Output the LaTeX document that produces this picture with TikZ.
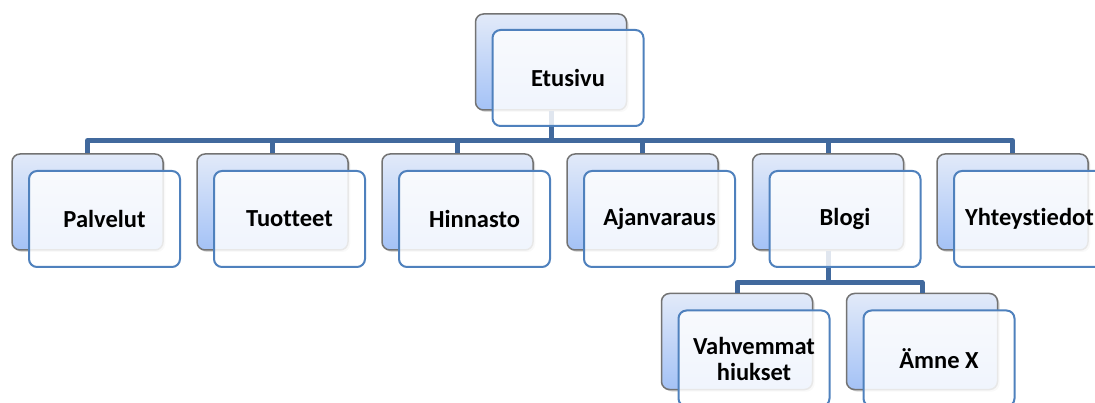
\documentclass[tikz,border=0pt]{standalone}
\usepackage{fontspec}
\setmainfont{Carlito}[Ligatures=NoCommon]
\usetikzlibrary{shadows}
\definecolor{linkblue}{HTML}{41699D}
\definecolor{edgeblue}{HTML}{4F81BD}
\definecolor{topblue}{HTML}{E2EAF9}
\definecolor{botblue}{HTML}{A4C2F6}
\tikzset{
  backbox/.style={draw=gray!90!black,line width=1.5pt,rounded corners=8pt,minimum width=151pt,minimum height=96pt,
    top color=topblue,bottom color=botblue,drop shadow={shadow xshift=2pt,shadow yshift=-2pt,opacity=0.3}},
  frontbox/.style={draw=edgeblue,line width=2pt,rounded corners=8pt,minimum width=151pt,minimum height=96pt,
    fill=white,fill opacity=0.84,text opacity=1,align=center,font=\bfseries\fontsize{24.5}{26}\selectfont},
  link/.style={draw=linkblue,line width=5pt,line join=round}
}

\begin{document}
\begin{tikzpicture}[x=1pt,y=-1pt]
\clip (0,0) rectangle (1095,403);
\coordinate (bus) at (0,140.5); \coordinate (blogbus) at (0,282.5);
% back boxes
\node[backbox] (etuB) at (551,62) {};
\node[backbox] (palB) at (87.5,202) {}; \node[backbox] (tuoB) at (272.5,202) {}; \node[backbox] (hinB) at (457.5,202) {};
\node[backbox] (ajaB) at (642.5,202) {}; \node[backbox] (blogB) at (828,202) {}; \node[backbox] (yhtB) at (1012.5,202) {};
\node[backbox] (vahB) at (737,341.5) {}; \node[backbox] (amneB) at (922,341.5) {};
% connectors
\draw[link] (etuB.south) -- (etuB.south |- bus);
\draw[link] (palB.north) |- (yhtB.north |- bus) -- (yhtB.north);
\draw[link] (tuoB.north) -- (tuoB.north |- bus); \draw[link] (hinB.north) -- (hinB.north |- bus);
\draw[link] (ajaB.north) -- (ajaB.north |- bus); \draw[link] (blogB.north) -- (blogB.north |- bus);
\draw[link] (blogB.south) -- (blogB.south |- blogbus);
\draw[link] (vahB.north) |- (amneB.north |- blogbus) -- (amneB.north);
% front boxes
\node[frontbox] (etu) at ([shift={(17,16)}]etuB) {Etusivu};
\node[frontbox] (pal) at ([shift={(17,17)}]palB) {Palvelut}; \node[frontbox] (tuo) at ([shift={(17,17)}]tuoB) {Tuotteet};
\node[frontbox] (hin) at ([shift={(17,17)}]hinB) {Hinnasto}; \node[frontbox] (aja) at ([shift={(17,17)}]ajaB) {Ajanvaraus};
\node[frontbox] (blog) at ([shift={(17,17)}]blogB) {Blogi}; \node[frontbox] (yht) at ([shift={(17,17)}]yhtB) {Yhteystiedot};
\node[frontbox] (vah) at ([shift={(17,17)}]vahB) {Vahvemmat\\hiukset}; \node[frontbox] (amne) at ([shift={(17,17)}]amneB) {Ämne X};
\end{tikzpicture}
\end{document}
